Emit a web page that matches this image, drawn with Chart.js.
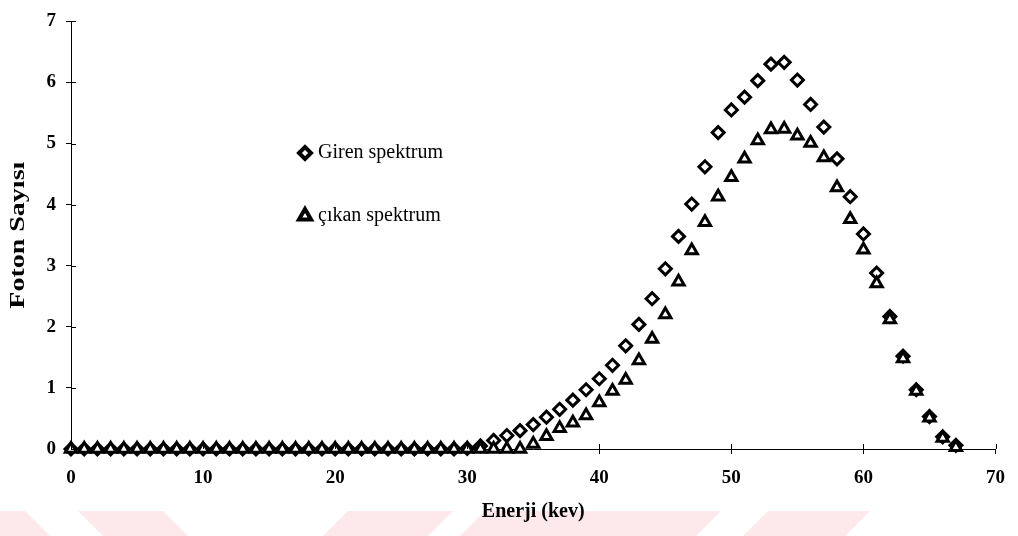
<!DOCTYPE html>
<html>
<head>
<meta charset="utf-8">
<script src="https://cdn.jsdelivr.net/npm/chart.js@4.4.0/dist/chart.umd.min.js"></script>
<style>
  html, body { margin: 0; padding: 0; background: #fff; }
  #wrap { width: 1018px; height: 536px; position: relative; }
</style>
</head>
<body>
<div id="wrap"><canvas id="chart" width="1018" height="536"></canvas></div>
<script>
// energies (keV) and photon counts
const energies = [0, 1, 2, 3, 4, 5, 6, 7, 8, 9, 10, 11, 12, 13, 14, 15, 16, 17, 18, 19,
  20, 21, 22, 23, 24, 25, 26, 27, 28, 29, 30, 31, 32, 33, 34, 35, 36, 37, 38, 39,
  40, 41, 42, 43, 44, 45, 46, 47, 48, 49, 50, 51, 52, 53, 54, 55, 56, 57, 58, 59,
  60, 61, 62, 63, 64, 65, 66, 67];

const girenSpektrum = [0, 0, 0, 0, 0, 0, 0, 0, 0, 0, 0, 0, 0, 0, 0, 0, 0, 0, 0, 0,
  0, 0, 0, 0, 0, 0, 0, 0, 0, 0, 0.01, 0.05, 0.14, 0.22, 0.30, 0.40, 0.52, 0.65, 0.80, 0.97,
  1.15, 1.37, 1.69, 2.04, 2.46, 2.95, 3.48, 4.01, 4.62, 5.18, 5.55, 5.76, 6.03, 6.30, 6.33, 6.04, 5.64, 5.27, 4.75, 4.13,
  3.52, 2.88, 2.17, 1.52, 0.97, 0.53, 0.20, 0.06];

const cikanSpektrum = [0, 0, 0, 0, 0, 0, 0, 0, 0, 0, 0, 0, 0, 0, 0, 0, 0, 0, 0, 0,
  0, 0, 0, 0, 0, 0, 0, 0, 0, 0, 0, 0, 0, 0, 0, 0.08, 0.21, 0.34, 0.43, 0.55,
  0.76, 0.95, 1.13, 1.45, 1.80, 2.20, 2.74, 3.25, 3.71, 4.13, 4.45, 4.75, 5.05, 5.23, 5.24, 5.13, 5.01, 4.77, 4.28, 3.76,
  3.26, 2.71, 2.12, 1.48, 0.95, 0.51, 0.18, 0.03];

const xTicks = [0, 10, 20, 30, 40, 50, 60, 70];
const yTicks = [0, 1, 2, 3, 4, 5, 6, 7];

const seriesNames = ['Giren spektrum', '\u00e7\u0131kan spektrum'];
const yTitle = 'Foton Say\u0131s\u0131';
const xTitle = 'Enerji (kev)';

const SERIF = "'Liberation Serif', 'Times New Roman', serif";

function toPoints(ys) {
  return energies.map((e, i) => ({ x: e, y: ys[i] }));
}

// faint pink watermark shapes along the bottom edge
const watermark = {
  id: 'watermark',
  beforeDraw(chart) {
    const c = chart.ctx;
    const shapes = [
      [[0, 511], [25, 511], [50, 536], [0, 536]],
      [[78, 511], [163, 511], [188, 536], [103, 536]],
      [[348, 511], [453, 511], [428, 536], [323, 536]],
      [[485, 511], [721, 511], [696, 536], [460, 536]],
      [[768, 511], [870, 511], [845, 536], [743, 536]]
    ];
    c.save();
    c.fillStyle = '#fde8eb';
    shapes.forEach(s => {
      c.beginPath();
      c.moveTo(s[0][0], s[0][1]);
      for (let i = 1; i < s.length; i++) c.lineTo(s[i][0], s[i][1]);
      c.closePath();
      c.fill();
    });
    c.restore();
  }
};

// tick marks cross the axis: draw the inner half too
const innerTicks = {
  id: 'innerTicks',
  afterDatasetsDraw(chart) {
    const c = chart.ctx;
    const xs = chart.scales.x, ys = chart.scales.y;
    const x0 = xs.getPixelForValue(0), y0 = ys.getPixelForValue(0);
    c.save();
    c.strokeStyle = '#000';
    c.lineWidth = 1;
    c.beginPath();
    xTicks.forEach(v => {
      const px = Math.round(xs.getPixelForValue(v)) + 0.5;
      c.moveTo(px, y0); c.lineTo(px, y0 - 5);
    });
    yTicks.forEach(v => {
      const py = Math.round(ys.getPixelForValue(v)) + 0.5;
      c.moveTo(x0, py); c.lineTo(x0 + 5, py);
    });
    c.stroke();
    c.restore();
  }
};

// rotated y title, glyphs stretched along the text like the scan
const yTitlePlugin = {
  id: 'yTitle',
  afterDraw(chart) {
    const c = chart.ctx;
    const ys = chart.scales.y;
    c.save();
    c.translate(19, (ys.top + ys.bottom) / 2);
    c.rotate(-Math.PI / 2);
    c.scale(1.4, 1);
    c.font = 'bold 20px ' + SERIF;
    c.fillStyle = '#000';
    c.textAlign = 'center';
    c.textBaseline = 'middle';
    c.fillText(yTitle, 0, 0);
    c.restore();
  }
};

// legend sits inside the plot area
const insideLegend = {
  id: 'insideLegend',
  afterDraw(chart) {
    const c = chart.ctx;
    const items = [
      { ds: chart.data.datasets[0], x: 305, y: 153, r: 6, bw: 4 },
      { ds: chart.data.datasets[1], x: 305, y: 216, r: 7, bw: 4 }
    ];
    c.save();
    items.forEach(it => {
      c.strokeStyle = '#000';
      c.fillStyle = '#fff';
      c.lineWidth = it.bw;
      Chart.helpers.drawPoint(c, { pointStyle: it.ds.pointStyle, radius: it.r, borderWidth: it.bw }, it.x, it.y);
      c.fillStyle = '#000';
      c.font = '20px ' + SERIF;
      c.textBaseline = 'alphabetic';
      c.textAlign = 'left';
      c.fillText(it.ds.label, 318, it.y + 5);
    });
    c.restore();
  }
};

const ctx = document.getElementById('chart').getContext('2d');
const chart = new Chart(ctx, {
  type: 'scatter',
  data: {
    datasets: [
      {
        label: seriesNames[0],
        data: toPoints(girenSpektrum),
        pointStyle: 'rectRot',
        pointRadius: 6,
        borderWidth: 3,
        borderColor: '#000',
        backgroundColor: '#fff',
        clip: false,
        order: 1
      },
      {
        label: seriesNames[1],
        data: toPoints(cikanSpektrum),
        pointStyle: 'triangle',
        pointRadius: 6.5,
        borderWidth: 3,
        borderColor: '#000',
        backgroundColor: '#fff',
        clip: false,
        order: 0
      }
    ]
  },
  options: {
    responsive: false,
    animation: false,
    events: [],
    layout: { padding: { left: 0, right: 19, top: 13, bottom: 0 } },
    plugins: {
      legend: { display: false },
      tooltip: { enabled: false }
    },
    scales: {
      x: {
        type: 'linear',
        min: 0, max: 70,
        afterBuildTicks: s => { s.ticks = xTicks.map(v => ({ value: v })); },
        afterFit: s => { s.height = 87; },
        border: { color: '#000', width: 1 },
        grid: { drawOnChartArea: false, drawTicks: true, tickLength: 5, color: '#000' },
        ticks: { color: '#000', padding: 13, maxRotation: 0, font: { family: SERIF, size: 19, weight: 'bold' } },
        title: { display: true, text: xTitle, color: '#000', padding: { top: 0, bottom: 12 }, font: { family: SERIF, size: 20, weight: 'bold' } }
      },
      y: {
        type: 'linear',
        min: 0, max: 7,
        afterBuildTicks: s => { s.ticks = yTicks.map(v => ({ value: v })); },
        afterFit: s => { s.width = 71; },
        border: { color: '#000', width: 1 },
        grid: { drawOnChartArea: false, drawTicks: true, tickLength: 5, color: '#000' },
        ticks: { color: '#000', padding: 10, font: { family: SERIF, size: 19, weight: 'bold' } },
        title: { display: false }
      }
    }
  },
  plugins: [watermark, innerTicks, yTitlePlugin, insideLegend]
});
</script>
</body>
</html>
